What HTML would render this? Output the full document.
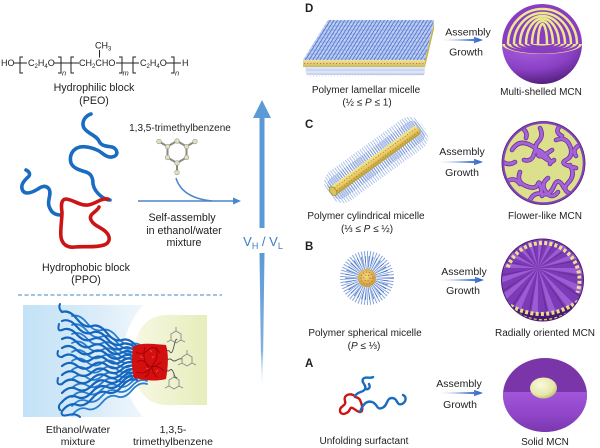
<!DOCTYPE html>
<html><head><meta charset="utf-8">
<style>
html,body{margin:0;padding:0;background:#fff;}
svg{display:block;}
text{font-family:"Liberation Sans",Arial,sans-serif;fill:#1f1f1f;}
</style></head><body>
<svg width="600" height="448" viewBox="0 0 600 448" xmlns="http://www.w3.org/2000/svg">
<defs>
 <linearGradient id="gArrow" x1="0" y1="0" x2="1" y2="0">
  <stop offset="0" stop-color="#d2e1f5"/><stop offset="1" stop-color="#2b62c6"/>
 </linearGradient>
 <linearGradient id="gShaft" x1="0" y1="0" x2="0" y2="1">
  <stop offset="0" stop-color="#5b9ad6"/><stop offset="0.7" stop-color="#7fb0e0"/><stop offset="1" stop-color="#ffffff" stop-opacity="0"/>
 </linearGradient>
 <linearGradient id="gBlueBg" x1="0" y1="0" x2="1" y2="0">
  <stop offset="0" stop-color="#c2e2f6"/><stop offset="0.6" stop-color="#dcedf9"/><stop offset="1" stop-color="#f4f9fd"/>
 </linearGradient>
 <linearGradient id="gYel" x1="0" y1="0" x2="1" y2="0">
  <stop offset="0" stop-color="#f6f8e2"/><stop offset="1" stop-color="#e7edbc"/>
 </linearGradient>
 <radialGradient id="gPurpLow" cx="0.35" cy="0.1" r="0.9">
  <stop offset="0" stop-color="#a95fdc"/><stop offset="0.6" stop-color="#8a40c4"/><stop offset="1" stop-color="#55207e"/>
 </radialGradient>
 <linearGradient id="gSolidLow" x1="0" y1="0" x2="0" y2="1">
  <stop offset="0" stop-color="#a255da"/><stop offset="0.5" stop-color="#9046c8"/><stop offset="1" stop-color="#7432a8"/>
 </linearGradient>
 <radialGradient id="gBall" cx="0.4" cy="0.35" r="0.7">
  <stop offset="0" stop-color="#fafade"/><stop offset="0.7" stop-color="#e6e6a8"/><stop offset="1" stop-color="#b8b872"/>
 </radialGradient>
 <radialGradient id="gCore" cx="0.45" cy="0.4" r="0.6">
  <stop offset="0" stop-color="#f2de7a"/><stop offset="1" stop-color="#c99a3a"/>
 </radialGradient>
 <linearGradient id="gRod" x1="0" y1="0" x2="0" y2="1">
  <stop offset="0" stop-color="#f4e796"/><stop offset="0.5" stop-color="#e2cc62"/><stop offset="1" stop-color="#b89a34"/>
 </linearGradient>
 <linearGradient id="gSlab" x1="0" y1="0" x2="0" y2="1">
  <stop offset="0" stop-color="#f0e49a"/><stop offset="1" stop-color="#cdbb5a"/>
 </linearGradient>
 <pattern id="hairL" width="3.6" height="6" patternUnits="userSpaceOnUse" patternTransform="skewX(-32)">
  <rect width="3.6" height="6" fill="#c3d1f3"/>
  <line x1="1" y1="0" x2="1" y2="6" stroke="#3a63c6" stroke-width="0.9"/>
 </pattern>
 <pattern id="hairL2" width="3" height="4" patternUnits="userSpaceOnUse">
  <circle cx="1.5" cy="2" r="1" fill="none" stroke="#6f90dc" stroke-width="0.6"/>
 </pattern>
 <pattern id="hairC" width="2.6" height="60" patternUnits="userSpaceOnUse">
  <line x1="1" y1="0" x2="1" y2="60" stroke="#8eaae2" stroke-width="0.7"/>
 </pattern>
 <pattern id="hairC2" width="2.4" height="60" patternUnits="userSpaceOnUse">
  <line x1="1" y1="0" x2="1" y2="60" stroke="#4a72c8" stroke-width="0.7"/>
 </pattern>
 <clipPath id="cD"><circle cx="542" cy="44" r="40"/></clipPath>
 <clipPath id="cC"><circle cx="543.5" cy="163" r="40"/></clipPath>
 <clipPath id="cB"><circle cx="542.5" cy="280" r="41"/></clipPath>
 <clipPath id="cA"><ellipse cx="545" cy="395" rx="42" ry="37"/></clipPath>
 <clipPath id="cBL"><rect x="23" y="305" width="200" height="112"/></clipPath>
</defs>

<!-- ================= LEFT TOP: formula ================= -->
<g stroke="#222" stroke-width="1" fill="none">
 <line x1="14" y1="63" x2="27" y2="63"/>
 <path d="M23,57 H20 V73 H23"/>
 <line x1="54" y1="63" x2="79" y2="63"/>
 <path d="M58,57 H61 V73 H58"/>
 <path d="M74,57 H71 V73 H74"/>
 <line x1="99.5" y1="50" x2="99.5" y2="57.5"/>
 <line x1="116" y1="63" x2="139" y2="63"/>
 <path d="M119,57 H122 V73 H119"/>
 <path d="M136,57 H133 V73 H136"/>
 <line x1="166" y1="63" x2="181" y2="63"/>
 <path d="M171,57 H174 V73 H171"/>
</g>
<g font-size="9">
 <text x="1" y="66">HO</text>
 <text x="28" y="66">C<tspan font-size="6" dy="2">2</tspan><tspan dy="-2">H</tspan><tspan font-size="6" dy="2">4</tspan><tspan dy="-2">O</tspan></text>
 <text x="62" y="75.5" font-size="7.5" font-style="italic">n</text>
 <text x="79" y="66">CH<tspan font-size="6" dy="2">2</tspan><tspan dy="-2">CHO</tspan></text>
 <text x="95" y="48.5">CH<tspan font-size="6" dy="2">3</tspan></text>
 <text x="122.5" y="75.5" font-size="7.5" font-style="italic">m</text>
 <text x="140" y="66">C<tspan font-size="6" dy="2">2</tspan><tspan dy="-2">H</tspan><tspan font-size="6" dy="2">4</tspan><tspan dy="-2">O</tspan></text>
 <text x="175" y="75.5" font-size="7.5" font-style="italic">n</text>
 <text x="182" y="66">H</text>
</g>
<text x="94" y="91" font-size="10.7" text-anchor="middle">Hydrophilic block</text>
<text x="94" y="104" font-size="10.7" text-anchor="middle">(PEO)</text>

<!-- polymer chains -->
<g fill="none" stroke-linecap="round" stroke-linejoin="round" stroke-width="3.6">
 <path stroke="#1a6cc0" d="M91,114 C85,116 81,122 84,128 C88,134 96,135 99,141 C101,146 106,146 112,147 C118,149 119,156 112,157 C106,158 102,152 97,150 C90,147 85,146 80,147 C72,149 69,156 71,163 C73,168 79,170 86,172 C92,174 93,179 93,184 C94,190 98,194 102,197 C105,199 108,200 110,200"/>
 <path stroke="#1a6cc0" d="M26,170 C30,172 31,175 27,178 C23,182 20,186 23,191 C26,195 33,192 38,189 C42,186 46,185 49,189 C52,194 47,200 49,206 C51,212 54,215 61,215"/>
 <path stroke="#cc1414" d="M108,199 C100,198 96,204 88,205 C80,206 74,200 66,199 C61,199 61,206 62,212 C62,220 60,230 61,237 C62,244 67,248 75,247 C84,246 95,248 104,245 C110,243 111,237 106,232 C101,227 94,226 91,220 C88,214 97,212 99,207"/>
</g>

<!-- mesitylene -->
<text x="180" y="131" font-size="10" text-anchor="middle">1,3,5-trimethylbenzene</text>
<g stroke="#8a8a80" stroke-width="2" fill="none">
 <polygon points="177,141 186.5,146.5 186.5,157.5 177,163 167.5,157.5 167.5,146.5"/>
 <line x1="167.5" y1="146.5" x2="159" y2="141.5"/>
 <line x1="186.5" y1="146.5" x2="195" y2="141.5"/>
 <line x1="177" y1="163" x2="177" y2="172"/>
</g>
<g fill="#e0e0c0" stroke="#9a9a88" stroke-width="0.6">
 <circle cx="177" cy="141" r="2.3"/><circle cx="186.5" cy="146.5" r="2.3"/><circle cx="186.5" cy="157.5" r="2.3"/>
 <circle cx="177" cy="163" r="2.3"/><circle cx="167.5" cy="157.5" r="2.3"/><circle cx="167.5" cy="146.5" r="2.3"/>
 <circle cx="159" cy="141.5" r="2.3"/><circle cx="195" cy="141.5" r="2.3"/><circle cx="177" cy="172.5" r="2.3"/>
</g>
<path d="M176,178 Q182,198 212,201" fill="none" stroke="#4a86cc" stroke-width="1.5"/>
<line x1="138" y1="201" x2="235" y2="201" stroke="#4a86cc" stroke-width="1.5"/>
<polygon points="233,197.5 241,201 233,204.5" fill="#4a86cc"/>
<text x="182" y="221" font-size="10.7" text-anchor="middle">Self-assembly</text>
<text x="184" y="234" font-size="10.7" text-anchor="middle">in ethanol/water</text>
<text x="184" y="246" font-size="10.7" text-anchor="middle">mixture</text>
<text x="86" y="271" font-size="10.7" text-anchor="middle">Hydrophobic block</text>
<text x="86" y="283" font-size="10.7" text-anchor="middle">(PPO)</text>

<line x1="18" y1="295" x2="222" y2="295" stroke="#3d85c6" stroke-width="1" stroke-dasharray="4 2.5"/>

<!-- ================= LEFT BOTTOM ================= -->
<g clip-path="url(#cBL)">
 <rect x="23" y="305" width="130" height="112" fill="url(#gBlueBg)"/>
 <circle cx="207" cy="361" r="85" fill="#ffffff"/>
</g>
<path d="M168,315 H207 V405 H168 Q134,405 134,360 Q134,315 168,315 Z" fill="url(#gYel)"/>
<g stroke="#8a8a8a" stroke-width="0.9" fill="none">
 <polygon points="176,331 181,334 181,340 176,343 171,340 171,334"/>
 <polygon points="187,354 192,357 192,363 187,366 182,363 182,357"/>
 <polygon points="174,377 179,380 179,386 174,389 169,386 169,380"/>
 <path d="M176,331 l0,-4 M181,340 l4,2 M171,340 l-4,2"/>
 <path d="M187,354 l0,-4 M192,363 l4,2 M182,363 l-4,2"/>
 <path d="M174,377 l0,-4 M179,386 l4,2 M169,386 l-4,2"/>
 <path d="M166,352 q2,-3 4,0 t4,-6 t3,-6" stroke="#555"/>
 <path d="M167,360 q3,-2 5,0 t5,0 t5,-1" stroke="#555"/>
 <path d="M166,370 q2,2 4,0 t4,4 t3,3" stroke="#555"/>
</g>
<defs>
 <g id="chains">
  <path d="M62,312 Q69.5,309.5 77,319 T92,326 T107,333 T122,340 T137,347"/>
  <path d="M62,321 Q69.5,317.9 77,326.8 T92,332.6 T107,338.4 T122,344.2 T137,350"/>
  <path d="M62,330 Q69.5,326.3 77,334.6 T92,339.2 T107,343.8 T122,348.4 T137,353"/>
  <path d="M62,339 Q69.5,334.7 77,342.4 T92,345.8 T107,349.2 T122,352.6 T137,356"/>
  <path d="M62,348 Q69.5,343.1 77,350.2 T92,352.4 T107,354.6 T122,356.8 T137,359"/>
  <path d="M62,357 Q69.5,351.5 77,358 T92,359 T107,360 T122,361 T137,362"/>
  <path d="M62,366 Q69.5,359.9 77,365.8 T92,365.6 T107,365.4 T122,365.2 T137,365"/>
  <path d="M62,375 Q69.5,368.3 77,373.6 T92,372.2 T107,370.8 T122,369.4 T137,368"/>
  <path d="M62,384 Q69.5,376.7 77,381.4 T92,378.8 T107,376.2 T122,373.6 T137,371"/>
  <path d="M62,393 Q69.5,385.1 77,389.2 T92,385.4 T107,381.6 T122,377.8 T137,374"/>
  <path d="M62,402 Q69.5,393.5 77,397 T92,392 T107,387 T122,382 T137,377"/>
  <path d="M62,411 Q69.5,401.9 77,404.8 T92,398.6 T107,392.4 T122,386.2 T137,380"/>
 </g>
</defs>
<g fill="none" stroke-linecap="round" stroke-linejoin="round">
 <g stroke="#2a7ed0" stroke-width="1.8"><use href="#chains" transform="translate(10,4)"/></g>
 <g stroke="#1565bd" stroke-width="2.2"><use href="#chains"/></g>
 <g stroke="#1565bd" stroke-width="2">
  <path d="M62,312 q-4,-4 -2,-8 M62,330 q-5,2 -3,-6 M62,357 q-6,0 -4,-6 M62,384 q-6,2 -4,-6 M62,402 q-5,4 -2,8 M62,411 q-2,6 6,4 q8,-2 12,2"/>
 </g>
</g>
<path d="M133,347 C140,342 155,344 166,345 C169,355 168,368 166,379 C155,382 143,380 134,378 C131,368 132,356 133,347 Z" fill="#d40f0f"/>
<g stroke="#9a0000" stroke-width="0.8" fill="none">
 <path d="M136,352 q6,4 12,-2 t12,3 M137,362 q5,-4 10,2 t14,-2 M136,372 q8,3 14,-3 t14,2 M145,347 q-3,10 2,18 t-2,12 M156,347 q3,10 -2,16 t3,14"/>
</g>
<g stroke="#ff8a8a" stroke-width="0.6" fill="none" opacity="0.7">
 <path d="M140,356 l3,2 M152,358 l2,-2 M146,368 l3,1 M158,370 l-2,2 M150,350 l2,2"/>
</g>
<text x="78" y="433" font-size="10.5" text-anchor="middle">Ethanol/water</text>
<text x="78" y="445" font-size="10.5" text-anchor="middle">mixture</text>
<text x="173" y="433" font-size="10.5" text-anchor="middle">1,3,5-</text>
<text x="173" y="445" font-size="10.5" text-anchor="middle">trimethylbenzene</text>

<!-- ================= CENTER ARROW ================= -->
<polygon points="262,100 271,118 253,118" fill="#5b9ad6"/>
<rect x="259.5" y="117" width="5" height="111" fill="#5b9ad6"/>
<polygon points="259.5,253 264.5,253 262.6,392 261.4,392" fill="url(#gShaft)"/>
<text x="263" y="246" font-size="13" text-anchor="middle" style="fill:#3b7dc4">V<tspan font-size="9" dy="3">H</tspan><tspan dy="-3"> / V</tspan><tspan font-size="9" dy="3">L</tspan></text>

<!-- ================= RIGHT: D ================= -->
<text x="305" y="12" font-size="11.5" font-weight="bold">D</text>
<polygon points="306,68 424,67 424,76 308,77" fill="url(#hairL2)"/>
<polygon points="305,67 425,66 425,74 306,75" fill="#d0dbf4" opacity="0.7"/>
<polygon points="328,20 434,20 425,60 303,60" fill="url(#hairL)"/>
<polygon points="328,20 434,20 425,60 303,60" fill="url(#hairL2)" opacity="0.6"/>
<polygon points="303,60 425,60 425,67 303,67" fill="url(#gSlab)"/>
<polygon points="425,60 434,22 434,29 425,67" fill="#c4b150"/>
<line x1="304" y1="63.5" x2="424" y2="63.5" stroke="#e0603a" stroke-width="1" stroke-dasharray="1 2.2"/>
<text x="366" y="93" font-size="10" text-anchor="middle">Polymer lamellar micelle</text>
<text x="367" y="105.5" font-size="10" text-anchor="middle">(½ ≤ <tspan font-style="italic">P</tspan> ≤ 1)</text>

<text x="468" y="35.5" font-size="10.5" text-anchor="middle">Assembly</text>
<polygon points="441,40 474,38.9 474,36.8 483,40 474,43.2 474,41.1" fill="url(#gArrow)"/>
<text x="466" y="55.5" font-size="10.5" text-anchor="middle">Growth</text>

<!-- multi-shelled sphere -->
<path d="M502,44 A40,40 0 0 0 582,44 Z" fill="url(#gPurpLow)"/>
<path d="M502,44 A40,40 0 0 1 582,44 Z" fill="#8a3cc2"/>
<g clip-path="url(#cD)" fill="none" stroke="#ebe88e" stroke-width="2.5">
 <path d="M508,44 A34.5,35 0 0 1 577,44"/>
 <path d="M514,44 A28.5,31 0 0 1 571,44"/>
 <path d="M520,44 A22.5,28 0 0 1 565,44"/>
 <path d="M526,44 A16.5,25.5 0 0 1 559,44"/>
 <path d="M532,44 A10.5,23 0 0 1 553,44"/>
 <path d="M538,44 A4.5,20 0 0 1 547,44"/>
</g>
<path d="M502,44 A40,10 0 0 0 582,44 Z" fill="#e6e38c"/>
<g fill="none" stroke="#8a3cc2" stroke-width="2">
 <path d="M506,44 A36,8.6 0 0 0 578,44"/>
 <path d="M512,44 A30,7 0 0 0 572,44"/>
 <path d="M518,44 A24,5.5 0 0 0 566,44"/>
 <path d="M524,44 A18,4 0 0 0 560,44"/>
 <path d="M530,44 A12,2.6 0 0 0 554,44"/>
</g>
<text x="541" y="95" font-size="10" text-anchor="middle">Multi-shelled MCN</text>

<!-- ================= RIGHT: C ================= -->
<text x="305" y="128" font-size="11.5" font-weight="bold">C</text>
<g transform="translate(376,160) rotate(-36)">
 <rect x="-58" y="-18" width="116" height="36" rx="14" fill="url(#hairC)"/>
 <rect x="-56" y="-12" width="112" height="24" rx="9" fill="url(#hairC2)" opacity="0.8"/>
 <rect x="-53" y="-5" width="106" height="10" rx="3" fill="url(#gRod)"/>
 <line x1="-50" y1="-2" x2="52" y2="-2" stroke="#d8502e" stroke-width="0.8" stroke-dasharray="1 2"/>
 <line x1="-50" y1="2" x2="52" y2="2" stroke="#d8502e" stroke-width="0.8" stroke-dasharray="1 2"/>
 <ellipse cx="-53" cy="0" rx="3" ry="5" fill="#d9c55c" stroke="#a68d2e" stroke-width="0.8"/>
</g>
<text x="366" y="219" font-size="10" text-anchor="middle">Polymer cylindrical micelle</text>
<text x="367" y="232" font-size="10" text-anchor="middle">(⅓ ≤ <tspan font-style="italic">P</tspan> ≤ ½)</text>

<text x="462" y="155" font-size="10.5" text-anchor="middle">Assembly</text>
<polygon points="438,162 474,160.9 474,158.8 483,162 474,165.2 474,163.1" fill="url(#gArrow)"/>
<text x="462" y="176" font-size="10.5" text-anchor="middle">Growth</text>

<!-- flower-like sphere -->
<circle cx="543.5" cy="163" r="40.5" fill="#dcdf8c"/>
<g clip-path="url(#cC)" fill="none" stroke-linecap="round">
 <g stroke="#6a2e9a" stroke-width="4.6">
  <path d="M512,150 q6,-10 16,-6 t10,10 t14,-4"/>
  <path d="M520,172 q-4,10 6,14 t12,-2 t4,12"/>
  <path d="M540,128 q4,8 -2,14 t4,14 t12,4"/>
  <path d="M556,140 q10,-4 14,6 t-4,14 t10,8"/>
  <path d="M530,200 q4,-8 12,-6 t12,-8 t10,2"/>
  <path d="M548,178 q-8,6 -2,14 t12,0"/>
  <path d="M506,182 q8,-6 14,2"/>
  <path d="M570,165 q6,10 -2,18 t6,12"/>
  <path d="M524,160 q8,2 10,-6 t10,0 t6,10"/>
  <path d="M560,126 q-6,6 2,10"/>
  <path d="M503,162 q6,4 12,0"/>
  <path d="M578,146 q-6,4 -2,10"/>
  <path d="M522,128 q6,4 4,10"/>
 </g>
 <g stroke="#a463d8" stroke-width="3">
  <path d="M512,150 q6,-10 16,-6 t10,10 t14,-4"/>
  <path d="M520,172 q-4,10 6,14 t12,-2 t4,12"/>
  <path d="M540,128 q4,8 -2,14 t4,14 t12,4"/>
  <path d="M556,140 q10,-4 14,6 t-4,14 t10,8"/>
  <path d="M530,200 q4,-8 12,-6 t12,-8 t10,2"/>
  <path d="M548,178 q-8,6 -2,14 t12,0"/>
  <path d="M506,182 q8,-6 14,2"/>
  <path d="M570,165 q6,10 -2,18 t6,12"/>
  <path d="M524,160 q8,2 10,-6 t10,0 t6,10"/>
  <path d="M560,126 q-6,6 2,10"/>
  <path d="M503,162 q6,4 12,0"/>
  <path d="M578,146 q-6,4 -2,10"/>
  <path d="M522,128 q6,4 4,10"/>
 </g>
</g>
<circle cx="543.5" cy="163" r="40.5" fill="none" stroke="#8444b8" stroke-width="2.6"/>
<circle cx="543.5" cy="163" r="41.5" fill="none" stroke="#5a2a80" stroke-width="0.8"/>
<text x="545" y="219" font-size="10" text-anchor="middle">Flower-like MCN</text>

<!-- ================= RIGHT: B ================= -->
<text x="305" y="250" font-size="11.5" font-weight="bold">B</text>
<circle cx="367" cy="278" r="17" fill="none" stroke="#86a4de" stroke-width="20" stroke-dasharray="0.7 1.3"/>
<circle cx="367" cy="278" r="15" fill="none" stroke="#3d69c2" stroke-width="14" stroke-dasharray="0.6 2.2" stroke-dashoffset="1"/>
<circle cx="367" cy="278" r="9" fill="url(#gCore)"/>
<circle cx="367" cy="278" r="6" fill="none" stroke="#d2502c" stroke-width="1" stroke-dasharray="1 2"/>
<circle cx="367" cy="278" r="3" fill="none" stroke="#d2502c" stroke-width="1" stroke-dasharray="1 2"/>
<text x="365" y="336" font-size="10" text-anchor="middle">Polymer spherical micelle</text>
<text x="364" y="349" font-size="10" text-anchor="middle">(<tspan font-style="italic">P</tspan> ≤ ⅓)</text>

<text x="464" y="275" font-size="10.5" text-anchor="middle">Assembly</text>
<polygon points="438,280 475,278.9 475,276.8 484,280 475,283.2 475,281.1" fill="url(#gArrow)"/>
<text x="463" y="294" font-size="10.5" text-anchor="middle">Growth</text>

<!-- radially oriented sphere -->
<circle cx="542.5" cy="280" r="41" fill="#7c3ab6"/>
<g clip-path="url(#cB)">
 <circle cx="538" cy="268" r="28" fill="none" stroke="#a868de" stroke-width="56" stroke-dasharray="5 6" opacity="0.75"/>
 <circle cx="538" cy="268" r="28" fill="none" stroke="#4e1c80" stroke-width="56" stroke-dasharray="2 9" stroke-dashoffset="7" opacity="0.45"/>
 <path d="M500,298 Q542,330 585,296 L585,330 L500,330 Z" fill="#4a1a70"/>
 <path d="M506,303 Q542,326 579,301" fill="none" stroke="#e6e08a" stroke-width="4" stroke-dasharray="3 2.3"/>
 <path d="M514,312 Q543,330 572,311" fill="none" stroke="#d8d27a" stroke-width="3.4" stroke-dasharray="3 2.3"/>
</g>
<path d="M507.7,267.3 A37,37 0 0 1 577.3,292.7" fill="none" stroke="#e8e290" stroke-width="4" stroke-dasharray="3 2.2"/>
<circle cx="542.5" cy="280" r="41" fill="none" stroke="#4e1c78" stroke-width="1"/>
<text x="545" y="336" font-size="10" text-anchor="middle">Radially oriented MCN</text>

<!-- ================= RIGHT: A ================= -->
<text x="305" y="367" font-size="11.5" font-weight="bold">A</text>
<g fill="none" stroke-linecap="round" stroke-linejoin="round" stroke-width="2.4">
 <path stroke="#cc1414" d="M355,396 C349,392 343,396 345,401 C347,406 339,406 340,411 C341,416 348,414 350,409 C352,405 356,412 360,412 C364,412 362,404 360,400 C358,396 354,398 355,396"/>
 <path stroke="#1a6cc0" d="M355,396 C358,391 363,393 365,389 C367,385 361,383 363,379 C365,376 371,379 373,377 M365,389 C368,390 371,388 369,384"/>
 <path stroke="#1a6cc0" d="M360,412 C362,406 366,400 372,402 C378,404 376,410 382,408 C388,406 386,398 392,398 C398,398 396,406 402,404 C406,402 407,397 403,395"/>
</g>
<text x="364" y="444" font-size="10" text-anchor="middle">Unfolding surfactant</text>

<text x="459" y="387" font-size="10.5" text-anchor="middle">Assembly</text>
<polygon points="439,393 474,391.9 474,389.8 483,393 474,396.2 474,394.1" fill="url(#gArrow)"/>
<text x="460" y="408" font-size="10.5" text-anchor="middle">Growth</text>

<!-- solid sphere -->
<ellipse cx="545" cy="395" rx="42" ry="37" fill="#7a36a8"/>
<g clip-path="url(#cA)">
 <rect x="500" y="392" width="92" height="45" fill="url(#gSolidLow)"/>
 <path d="M560,432 Q585,420 589,392 L592,392 L592,440 L555,440 Z" fill="#5c2388" opacity="0.8"/>
</g>
<ellipse cx="543.5" cy="388" rx="13.5" ry="10.5" fill="url(#gBall)"/>
<text x="545" y="445" font-size="10" text-anchor="middle">Solid MCN</text>
</svg>
</body></html>
